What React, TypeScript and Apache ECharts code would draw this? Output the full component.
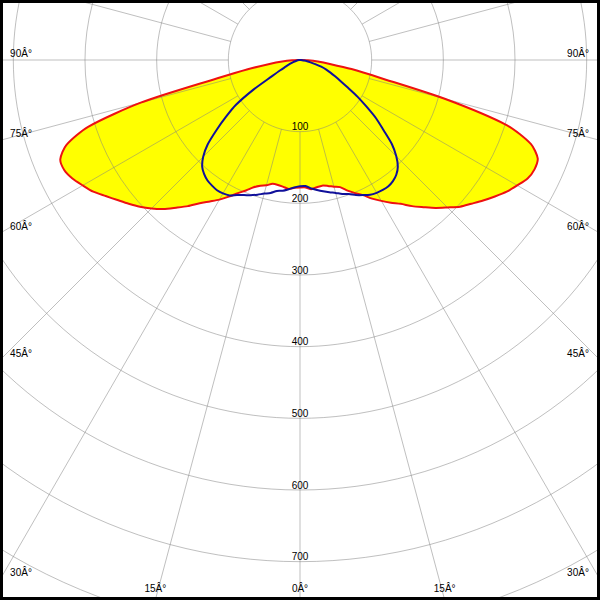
import React, { useEffect, useRef } from 'react';
import * as echarts from 'echarts';

// Photometric polar diagram: gamma angles (deg from nadir) and intensities (cd/klm)
const GAMMA = [0, 2.5, 5, 7.5, 10, 12.5, 15, 17.5, 20, 22.5, 25, 27.5, 30, 32.5, 35, 37.5, 40, 42.5, 45, 47.5, 50, 52.5, 55, 57.5, 60, 62.5, 65, 67.5, 70, 72.5, 75, 77.5, 80, 82.5, 85, 87.5, 90];

// C90 plane (right) and C270 plane (left) – red curve with yellow fill
const RED_C90 = [178, 178, 181, 179, 178, 180, 183, 186, 194, 201, 208, 218, 227, 236, 245, 257, 268, 280, 291, 303, 312, 322, 332, 342, 350, 358, 361, 359, 343, 303, 209, 114, 73, 42, 25, 11, 0];
const RED_C270 = [178, 178.5, 180.5, 178.5, 177, 177, 181, 184, 189, 197, 205, 215, 225, 234, 244, 257, 269, 282, 293, 303, 312, 321, 331, 342, 350, 358, 363, 362, 347, 310, 230, 118, 74, 43, 25, 11, 0];

// C0 plane (right) and C180 plane (left) – blue curve
const BLUE_C0 = [176, 176, 180, 183, 186, 189, 192, 196, 199, 204, 208, 212, 214, 215, 215, 213, 209, 202, 190, 174, 152, 134, 113, 95, 77, 64, 54, 46, 39, 31, 22, 15, 10, 6, 3, 1.4, 0];
const BLUE_C180 = [176, 178, 181, 184, 185.5, 190, 193, 197, 201, 204, 208, 213, 215, 215.5, 214, 212, 208, 202, 191, 175, 152, 130, 109, 77, 45, 31, 22, 17, 13, 10, 7, 5, 4, 3, 1.4, 0.7, 0];

const RADIUS_MIN = 100;
const RADIUS_MAX = 900;
const RADIUS_STEP = 100;
const RADIUS_LABEL_MAX = 700;
const ANGLE_STEP = 15;
const ANGLE_LABELS = [0, 15, 30, 45, 60, 75, 90];

// layout
const W = 600;
const H = 600;
const CX = 300;
const CY = 60;
const PX_PER_UNIT = 0.7167;
const R0 = RADIUS_MIN * PX_PER_UNIT;
const R1 = RADIUS_MAX * PX_PER_UNIT;
const FONT = 'Liberation Sans';

function loop(right: number[], left: number[]) {
  const pts: number[][] = GAMMA.map((g, i) => [right[i], g]);
  for (let i = GAMMA.length - 1; i >= 0; i--) pts.push([left[i], 360 - GAMMA[i]]);
  return pts;
}

function angleLabelPos(g: number, side: number) {
  const rad = (g * Math.PI) / 180;
  const s = Math.sin(rad);
  const c = Math.cos(rad);
  const tSide = s > 1e-9 ? (side > 0 ? W - CX : CX) / s : Infinity;
  const tBottom = c > 1e-9 ? (H - CY) / c : Infinity;
  if (tSide < tBottom) {
    return { x: side > 0 ? 578 : 21, y: CY + tSide * c - 7 };
  }
  return { x: CX + side * tBottom * s, y: 588.5 };
}

function curveSeries(points: number[][], kind: 'fill' | 'line', color: string, z: number) {
  return {
    type: 'custom',
    coordinateSystem: 'polar',
    z,
    silent: true,
    clip: false,
    data: [[RADIUS_MIN, 0]],
    renderItem: (_params: any, api: any) => {
      const pts = points.map((d) => api.coord(d));
      if (kind === 'fill') {
        return {
          type: 'polygon',
          shape: { points: pts, smooth: 0.25 },
          style: { fill: color, stroke: 'none' },
        };
      }
      return {
        type: 'polyline',
        shape: { points: pts, smooth: 0.25 },
        style: { fill: 'none', stroke: color, lineWidth: 2, lineJoin: 'round' },
      };
    },
  };
}

export default function App() {
  const ref = useRef<HTMLDivElement>(null);
  useEffect(() => {
    if (!ref.current) return;
    const chart = echarts.init(ref.current, undefined, { renderer: 'svg' });
    const redLoop = loop(RED_C90, RED_C270);
    const blueLoop = loop(BLUE_C0, BLUE_C180);

    const graphics: any[] = [];
    ANGLE_LABELS.forEach((g) => {
      const sides = g === 0 ? [1] : [-1, 1];
      sides.forEach((side) => {
        const p = angleLabelPos(g, side);
        graphics.push({
          type: 'text',
          x: p.x,
          y: p.y,
          z: 20,
          silent: true,
          style: {
            text: `${g}Â°`,
            fill: '#000',
            font: `10px "${FONT}"`,
            align: 'center',
            verticalAlign: 'middle',
          },
        });
      });
    });
    graphics.push({
      type: 'rect',
      z: 30,
      silent: true,
      shape: { x: 1, y: 1, width: W - 2, height: H - 2 },
      style: { fill: 'transparent', stroke: '#000', lineWidth: 4 },
    });

    const gridColor = 'rgba(128,128,128,0.5)';
    chart.setOption({
      animation: false,
      backgroundColor: '#ffffff',
      polar: { center: [CX, CY], radius: [R0, R1] },
      angleAxis: {
        type: 'value',
        min: 0,
        max: 360,
        interval: ANGLE_STEP,
        startAngle: 270,
        clockwise: false,
        z: 2,
        axisLine: { show: false },
        axisTick: { show: false },
        axisLabel: { show: false },
        splitLine: { show: true, lineStyle: { color: gridColor, width: 1 } },
      },
      radiusAxis: {
        type: 'value',
        min: RADIUS_MIN,
        max: RADIUS_MAX,
        interval: RADIUS_STEP,
        z: 2,
        axisLine: { show: false },
        axisTick: { show: false },
        axisLabel: {
          show: true,
          margin: 0,
          align: 'center',
          verticalAlign: 'bottom',
          color: '#000',
          fontSize: 10,
          fontFamily: FONT,
          formatter: (v: number) => (v <= RADIUS_LABEL_MAX ? String(v) : ''),
        },
        splitLine: { show: true, lineStyle: { color: gridColor, width: 1 } },
      },
      series: [
        curveSeries(redLoop, 'fill', '#ffff00', 1),
        curveSeries(redLoop, 'line', '#ee1111', 5),
        curveSeries(blueLoop, 'line', '#10109a', 6),
      ],
      graphic: graphics,
    });
    return () => chart.dispose();
  }, []);
  return (
    <div
      ref={ref}
      style={{ position: 'fixed', left: 0, top: 0, width: W, height: H, background: '#fff' }}
    />
  );
}
